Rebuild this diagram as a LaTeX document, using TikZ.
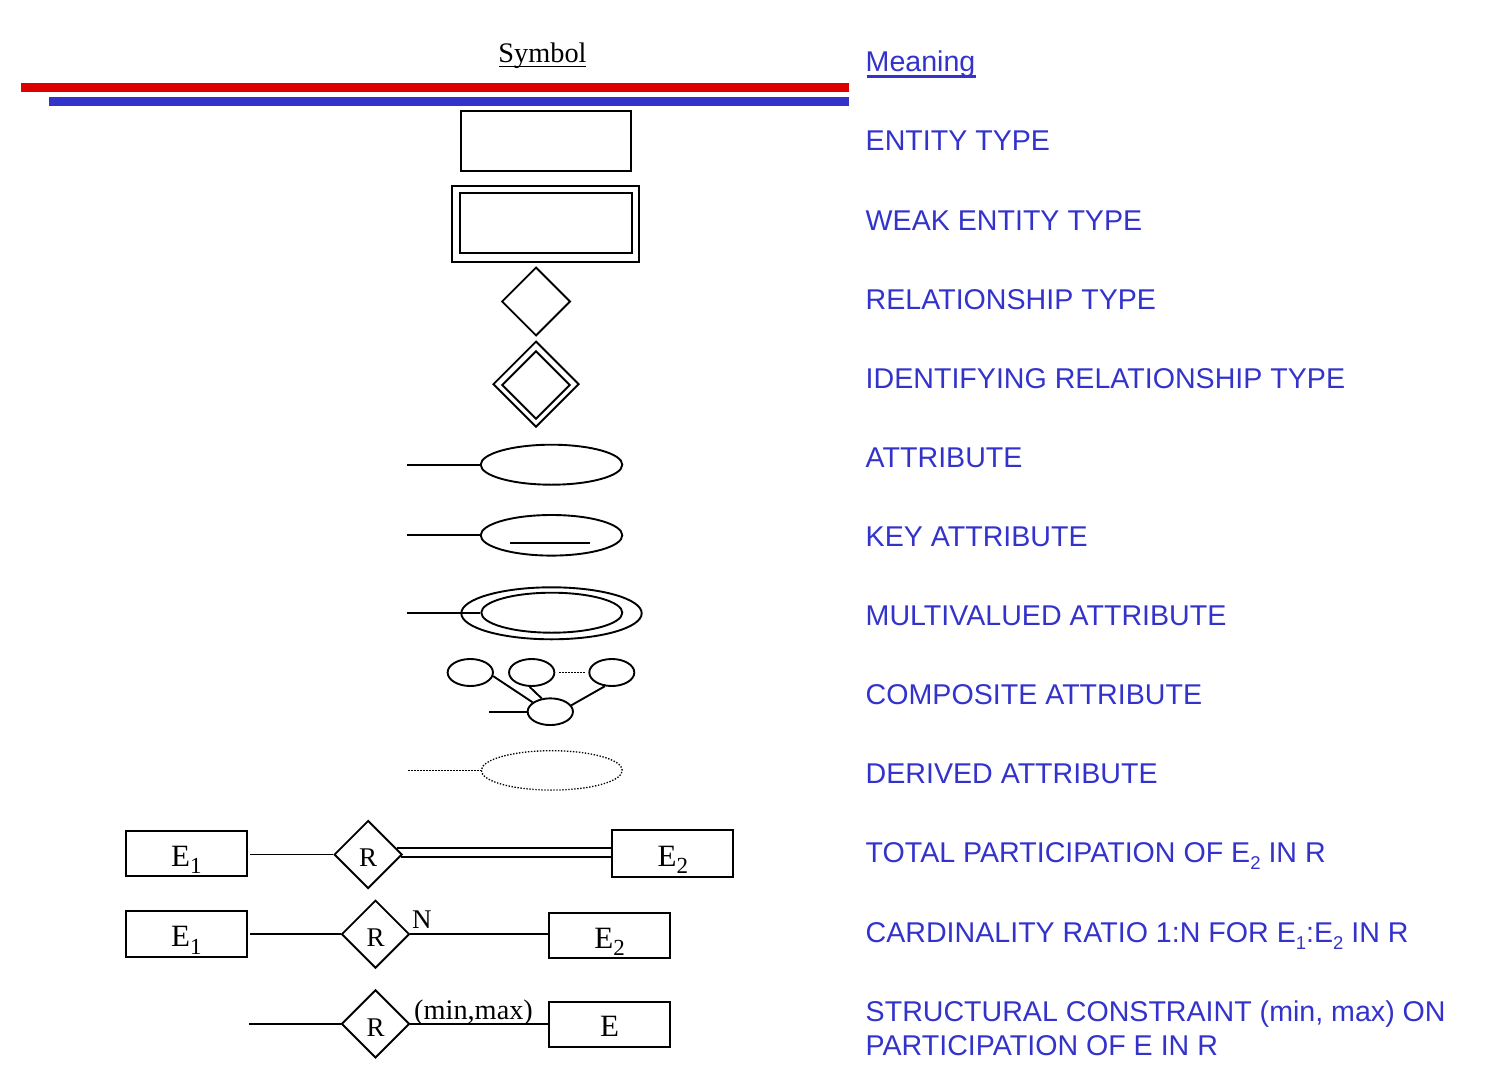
\documentclass[tikz,border=0pt]{standalone}
\usepackage{fontspec}
\setmainfont{Liberation Serif}
\newfontfamily\lsans{Liberation Sans}
\usetikzlibrary{shapes.geometric,calc}
\definecolor{lblue}{RGB}{51,51,204}
\definecolor{lred}{RGB}{221,0,0}
\newcommand{\ersub}[1]{\raisebox{-7.3pt}{\fontsize{23}{23}\selectfont #1}}
\newcommand{\blsub}[1]{\raisebox{-7pt}{\fontsize{18.5}{18.5}\selectfont #1}}
\begin{document}
\begin{tikzpicture}[x=1pt,y=-1pt,
  ln/.style={line width=1.9pt, black},
  dln/.style={line width=1.3pt, black, dash pattern=on 1.4pt off 1.6pt},
  shp/.style={draw, line width=1.9pt, inner sep=0pt},
  rect/.style={shp, rectangle, minimum width=#1},
  dia/.style={shp, diamond, aspect=1, minimum width=#1, minimum height=#1},
  ell/.style={shp, ellipse},
  lbl/.style={anchor=base west, inner sep=0pt, text=lblue, font=\lsans\fontsize{28.6}{34}\selectfont},
  ebox/.style={shp, rectangle, minimum width=120.7pt, minimum height=45.8pt, text height=26pt, text depth=0pt, font=\fontsize{31}{31}\selectfont},
  rdia/.style={shp, diamond, aspect=1, minimum width=68pt, minimum height=68pt, text height=23.8pt, text depth=0pt, font=\fontsize{27}{27}\selectfont},
  small/.style={anchor=base west, inner sep=0pt, font=\fontsize{27}{27}\selectfont}
]
\useasboundingbox (0,0) rectangle (1485,1078);

% header
\node[anchor=base, inner sep=0pt, font=\fontsize{28.3}{30}\selectfont] (sym) at (542.5,62.3) {Symbol};
\draw[line width=1.5pt] (499,66.7) -- (586,66.7);
\fill[lred] (20.7,82.7) rectangle (849,92);
\fill[lblue] (49,97) rectangle (849,106);

\node[lbl] (m0) at (865.5,72) {Meaning};
\draw[lblue, line width=2.6pt] ($(m0.base west)+(1,4.7)$) -- ($(m0.base east)+(0,4.7)$);

% symbols
\node[rect=170pt, minimum height=60pt] (ent) at (546,141) {};
\node[rect=186.7pt, minimum height=76pt] (wo) at (545.7,223.7) {};
\node[rect=172.3pt, minimum height=60.3pt] (wi) at (545.8,222.9) {};
\node[dia=68.6pt] (rel) at (536,301.5) {};
\node[dia=86pt] (ido) at (536,384.2) {};
\node[dia=68.3pt] (idi) at (536,385) {};

\node[ell, minimum width=141.6pt, minimum height=40pt] (a1) at (551.5,464.7) {};
\coordinate (a1s) at (406.7,464.7);
\draw[ln] (a1s) -- (a1.west);

\node[ell, minimum width=141.6pt, minimum height=40.6pt] (a2) at (551.5,535.3) {};
\coordinate (a2s) at (406.7,535.3);
\draw[ln] (a2s) -- (a2.west);
\draw[ln] (510,543.3) -- (590,543.3);

\node[ell, minimum width=180.4pt, minimum height=52pt] (a3o) at (551.5,613.3) {};
\node[ell, minimum width=141pt, minimum height=40pt] (a3i) at (551.8,612.7) {};
\coordinate (a3s) at (406.7,612.7);
\draw[ln] (a3s) -- (a3i.west);

\node[ell, minimum width=45.3pt, minimum height=27pt] (ca) at (470.3,672.5) {};
\node[ell, minimum width=45.3pt, minimum height=27pt] (cb) at (531.7,672.5) {};
\node[ell, minimum width=45pt, minimum height=27pt] (cc) at (611.8,672.5) {};
\node[ell, minimum width=45.3pt, minimum height=26.7pt] (cd) at (550.3,711.7) {};
\coordinate (cds) at (489,711.7);
\draw[ln] (cds) -- (cd.west);
\draw[ln] (ca.-9) -- (cd.152);
\draw[ln] (cb.-98) -- (cd.123);
\draw[ln] (cc.-117) -- (cd.17);
\draw[dln, shorten <=4pt, shorten >=3pt] (cb.east) -- (cc.west);

\node[ell, draw=none, minimum width=141pt, minimum height=39.4pt] (dv) at (551.8,770.4) {};
\draw[dln] (dv.center) ellipse [x radius=70.5pt, y radius=19.7pt];
\coordinate (dvs) at (408.3,770.4);
\draw[dln] (dvs) -- (dv.west);

% row 1
\node[ebox] (e11) at (186.3,853.5) {E\ersub{1}};
\node[rdia] (r1) at (368.2,854.5) {R};
\node[ebox, minimum width=121pt, minimum height=46.4pt] (e12) at (672.8,853.5) {E\ersub{2}};
\draw[ln, shorten <=2.6pt] (r1.west -| e11.east) -- (r1.west);
\draw[ln] ($(r1.east)+(-6.2,-6.2)$) -- ($(e12.west)+(0,-5.2)$);
\draw[ln] ($(r1.east)+(-2.5,2.5)$) -- ($(e12.west)+(0,3.5)$);

% row 2
\node[ebox, minimum height=46pt] (e21) at (186.3,933.7) {E\ersub{1}};
\node[rdia, text height=25pt] (r2) at (375.5,934.2) {R};
\node[ebox, minimum height=45.6pt, text height=25.6pt] (e22) at (609.7,935.5) {E\ersub{2}};
\draw[ln, shorten <=2.6pt] (r2.west -| e21.east) -- (r2.west);
\draw[ln] (r2.east) -- (r2.east -| e22.west);
\node[small] (nl) at (412,928.3) {N};

% row 3
\coordinate (r3s) at (249.3,1023.8);
\node[rdia, text height=24.4pt] (r3) at (375.5,1023.8) {R};
\node[ebox, minimum height=45pt, text height=23.8pt] (ee) at (609.7,1024.8) {E};
\draw[ln] (r3s) -- (r3.west);
\draw[ln] (r3.east) -- (r3.east -| ee.west);
\node[small, font=\fontsize{28.3}{28}\selectfont] (mm) at (414,1019) {(min,max)};

% meanings
\node[lbl] (t1) at (865.5,151) {ENTITY TYPE};
\node[lbl] (t2) at (865.5,230) {WEAK ENTITY TYPE};
\node[lbl] (t3) at (865.5,309) {RELATIONSHIP TYPE};
\node[lbl] (t4) at (865.5,388) {IDENTIFYING RELATIONSHIP TYPE};
\node[lbl] (t5) at (865.5,467) {ATTRIBUTE};
\node[lbl] (t6) at (865.5,546) {KEY ATTRIBUTE};
\node[lbl] (t7) at (865.5,625) {MULTIVALUED ATTRIBUTE};
\node[lbl] (t8) at (865.5,704) {COMPOSITE ATTRIBUTE};
\node[lbl] (t9) at (865.5,783) {DERIVED ATTRIBUTE};
\node[lbl] (t10) at (865.5,862.3) {TOTAL PARTICIPATION OF E\blsub{2} IN R};
\node[lbl] (t11) at (865.5,942.3) {CARDINALITY RATIO 1:N FOR E\blsub{1}:E\blsub{2} IN R};
\node[lbl] (t12) at (865.5,1021) {STRUCTURAL CONSTRAINT (min, max) ON};
\node[lbl] (t13) at (865.5,1055) {PARTICIPATION OF E IN R};
\end{tikzpicture}
\end{document}
